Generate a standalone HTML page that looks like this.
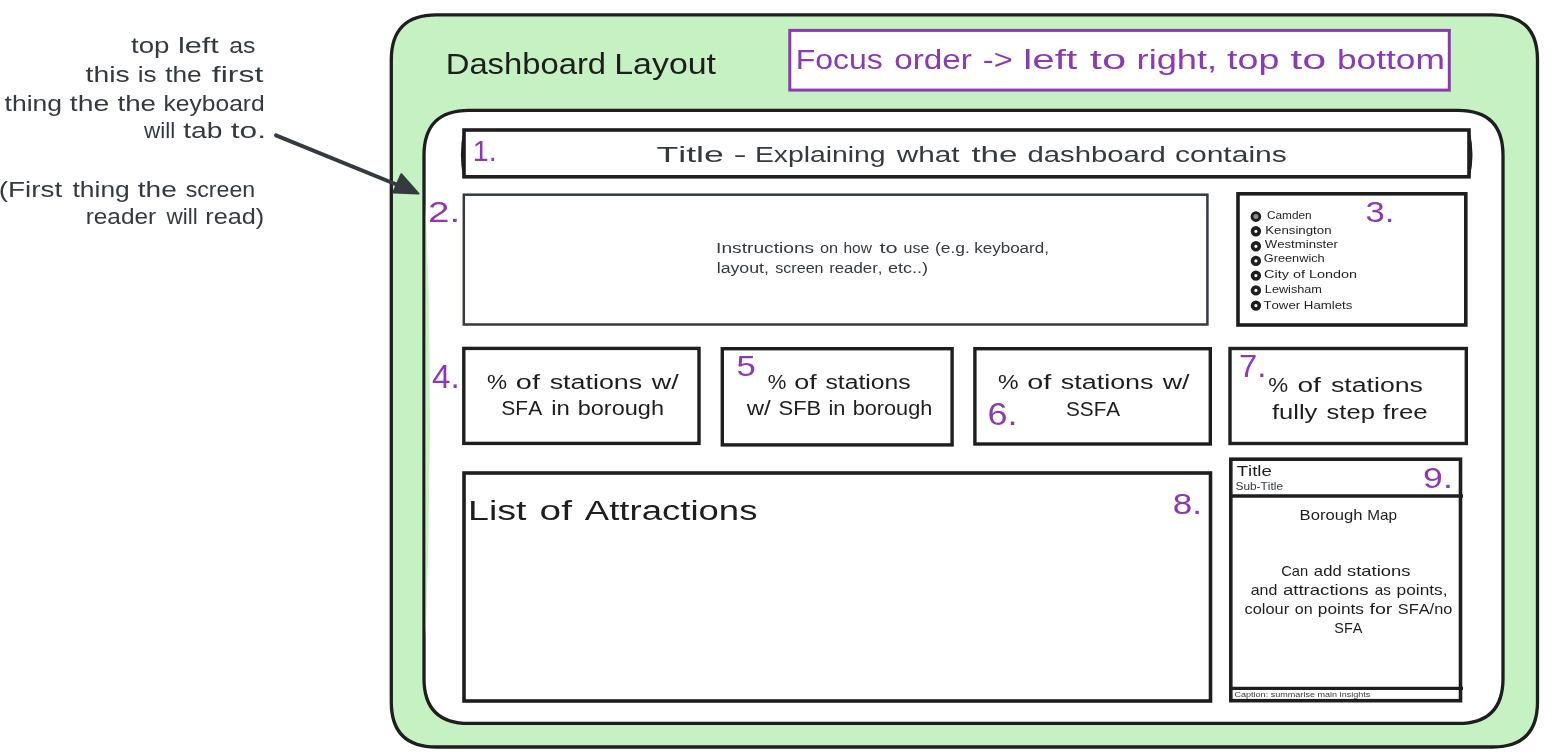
<!DOCTYPE html>
<html><head><meta charset="utf-8"><title>Dashboard Layout</title>
<style>
html,body{margin:0;padding:0;background:#fff;}
body{width:1556px;height:753px;overflow:hidden;}
svg{display:block;will-change:transform;}
text{font-family:"Liberation Sans", sans-serif;font-kerning:none;}
</style></head><body>
<svg width="1556" height="753" viewBox="0 0 1556 753">

<path d="M436.3 14.8 L1492.5 14.8 Q1537.5 14.8 1537.5 59.8 L1537.5 702 Q1537.5 747 1492.5 747 L436.3 747 Q391.3 747 391.3 702 L391.3 59.8 Q391.3 14.8 436.3 14.8 Z" fill="#c6f1c2" stroke="#1e1e1e" stroke-width="3.3"/>
<path d="M469 110.3 L1458 110.3 Q1503 110.3 1503 155.3 L1503 678.4 Q1503 723.4 1458 723.4 L469 723.4 Q424 723.4 424 678.4 L424 155.3 Q424 110.3 469 110.3 Z" fill="#fff" stroke="#1e1e1e" stroke-width="3.3"/>
<path d="M425.6 205 L429.2 310 L430 430 L428.2 550 L425.6 640 Z" fill="#c6f1c2"/>
<rect x="789.8" y="30.4" width="659.5" height="59.7" fill="#fff" stroke="#8c3ab2" stroke-width="3"/>
<rect x="464" y="130" width="1005" height="46.8" fill="#fff" stroke="#1e1e1e" stroke-width="3.6"/>
<rect x="463.8" y="194.7" width="743.6" height="129.8" fill="#fff" stroke="#343a40" stroke-width="2.5"/>
<rect x="1238" y="193.8" width="227.8" height="131.2" fill="#fff" stroke="#1e1e1e" stroke-width="3.6"/>
<rect x="463.8" y="348.4" width="235.2" height="95" fill="#fff" stroke="#1e1e1e" stroke-width="3.4"/>
<rect x="722.3" y="348.7" width="229.8" height="96.2" fill="#fff" stroke="#1e1e1e" stroke-width="3.4"/>
<rect x="974.9" y="348.7" width="235.4" height="95.3" fill="#fff" stroke="#1e1e1e" stroke-width="3.4"/>
<rect x="1230" y="348.5" width="236.3" height="95" fill="#fff" stroke="#1e1e1e" stroke-width="3.4"/>
<rect x="464" y="473" width="746.5" height="228" fill="#fff" stroke="#1e1e1e" stroke-width="3.6"/>
<rect x="1230.8" y="459.2" width="229.7" height="241.5" fill="#fff" stroke="#1e1e1e" stroke-width="3.6"/>
<path d="M464.2 132 Q459.8 155 464.2 177" fill="none" stroke="#1e1e1e" stroke-width="2.2"/>
<path d="M1468.8 132 Q1474 155 1468.8 177" fill="none" stroke="#1e1e1e" stroke-width="2.2"/>
<line x1="1230.8" y1="496" x2="1463" y2="496" stroke="#1e1e1e" stroke-width="3.3"/>
<line x1="1230.8" y1="688.4" x2="1463" y2="688.4" stroke="#1e1e1e" stroke-width="3.3"/>
<line x1="276" y1="135.3" x2="410" y2="190" stroke="#343a40" stroke-width="4" stroke-linecap="round"/>
<path d="M401.3 174.2 L393.3 192.5 L418.5 193.6 Z" fill="#343a40" stroke="#343a40" stroke-width="2" stroke-linejoin="round"/>

<circle cx="1255.9" cy="216.6" r="3.9" fill="#868e96" stroke="#1e1e1e" stroke-width="2.8"/>
<circle cx="1255.9" cy="231.3" r="3.4" fill="#fff" stroke="#1e1e1e" stroke-width="3.6"/>
<circle cx="1255.9" cy="246.3" r="3.4" fill="#fff" stroke="#1e1e1e" stroke-width="3.6"/>
<circle cx="1255.9" cy="260.9" r="3.4" fill="#fff" stroke="#1e1e1e" stroke-width="3.6"/>
<circle cx="1255.9" cy="275.6" r="3.4" fill="#fff" stroke="#1e1e1e" stroke-width="3.6"/>
<circle cx="1255.9" cy="290.4" r="3.4" fill="#fff" stroke="#1e1e1e" stroke-width="3.6"/>
<circle cx="1255.9" cy="305.6" r="3.4" fill="#fff" stroke="#1e1e1e" stroke-width="3.6"/>

<text x="130.98" y="52.90" font-size="21.5" fill="#343a40" textLength="38.48" lengthAdjust="spacingAndGlyphs">top</text>
<text x="177.93" y="52.90" font-size="21.5" fill="#343a40" textLength="40.89" lengthAdjust="spacingAndGlyphs">left</text>
<text x="229.24" y="52.90" font-size="21.5" fill="#343a40" textLength="26.25" lengthAdjust="spacingAndGlyphs">as</text>
<text x="85.57" y="81.70" font-size="21.5" fill="#343a40" textLength="44.15" lengthAdjust="spacingAndGlyphs">this</text>
<text x="137.75" y="81.70" font-size="21.5" fill="#343a40" textLength="18.90" lengthAdjust="spacingAndGlyphs">is</text>
<text x="165.20" y="81.70" font-size="21.5" fill="#343a40" textLength="36.57" lengthAdjust="spacingAndGlyphs">the</text>
<text x="211.85" y="81.70" font-size="21.5" fill="#343a40" textLength="51.49" lengthAdjust="spacingAndGlyphs">first</text>
<text x="4.60" y="110.50" font-size="21.5" fill="#343a40" textLength="57.41" lengthAdjust="spacingAndGlyphs">thing</text>
<text x="69.77" y="110.50" font-size="21.5" fill="#343a40" textLength="39.49" lengthAdjust="spacingAndGlyphs">the</text>
<text x="117.48" y="110.50" font-size="21.5" fill="#343a40" textLength="38.55" lengthAdjust="spacingAndGlyphs">the</text>
<text x="163.54" y="110.50" font-size="21.5" fill="#343a40" textLength="101.14" lengthAdjust="spacingAndGlyphs">keyboard</text>
<text x="144.03" y="138.40" font-size="21.5" fill="#343a40" textLength="31.17" lengthAdjust="spacingAndGlyphs">will</text>
<text x="183.17" y="138.40" font-size="21.5" fill="#343a40" textLength="39.32" lengthAdjust="spacingAndGlyphs">tab</text>
<text x="230.72" y="138.40" font-size="21.5" fill="#343a40" textLength="35.28" lengthAdjust="spacingAndGlyphs">to.</text>
<text x="-1.23" y="196.60" font-size="21.5" fill="#343a40" textLength="63.53" lengthAdjust="spacingAndGlyphs">(First</text>
<text x="72.50" y="196.60" font-size="21.5" fill="#343a40" textLength="57.30" lengthAdjust="spacingAndGlyphs">thing</text>
<text x="137.78" y="196.60" font-size="21.5" fill="#343a40" textLength="38.97" lengthAdjust="spacingAndGlyphs">the</text>
<text x="185.66" y="196.60" font-size="21.5" fill="#343a40" textLength="69.55" lengthAdjust="spacingAndGlyphs">screen</text>
<text x="85.68" y="223.60" font-size="21.5" fill="#343a40" textLength="70.42" lengthAdjust="spacingAndGlyphs">reader</text>
<text x="166.53" y="223.60" font-size="21.5" fill="#343a40" textLength="31.17" lengthAdjust="spacingAndGlyphs">will</text>
<text x="205.32" y="223.60" font-size="21.5" fill="#343a40" textLength="58.94" lengthAdjust="spacingAndGlyphs">read)</text>
<text x="445.71" y="73.50" font-size="29" fill="#1e1e1e" textLength="160.40" lengthAdjust="spacingAndGlyphs">Dashboard</text>
<text x="614.22" y="73.50" font-size="29" fill="#1e1e1e" textLength="101.83" lengthAdjust="spacingAndGlyphs">Layout</text>
<text x="795.67" y="68.90" font-size="27" fill="#8c3ab2" textLength="87.18" lengthAdjust="spacingAndGlyphs">Focus</text>
<text x="894.20" y="68.90" font-size="27" fill="#8c3ab2" textLength="77.65" lengthAdjust="spacingAndGlyphs">order</text>
<text x="982.85" y="68.90" font-size="27" fill="#8c3ab2" textLength="29.95" lengthAdjust="spacingAndGlyphs">-&gt;</text>
<text x="1023.38" y="68.90" font-size="27" fill="#8c3ab2" textLength="53.81" lengthAdjust="spacingAndGlyphs">left</text>
<text x="1089.84" y="68.90" font-size="27" fill="#8c3ab2" textLength="36.39" lengthAdjust="spacingAndGlyphs">to</text>
<text x="1136.59" y="68.90" font-size="27" fill="#8c3ab2" textLength="80.56" lengthAdjust="spacingAndGlyphs">right,</text>
<text x="1227.03" y="68.90" font-size="27" fill="#8c3ab2" textLength="52.35" lengthAdjust="spacingAndGlyphs">top</text>
<text x="1290.15" y="68.90" font-size="27" fill="#8c3ab2" textLength="36.07" lengthAdjust="spacingAndGlyphs">to</text>
<text x="1336.92" y="68.90" font-size="27" fill="#8c3ab2" textLength="108.01" lengthAdjust="spacingAndGlyphs">bottom</text>
<text x="472.83" y="161.40" font-size="29.6" fill="#8c3ab2" textLength="23.77" lengthAdjust="spacingAndGlyphs">1.</text>
<text x="656.40" y="162.20" font-size="22" fill="#343a40" textLength="67.49" lengthAdjust="spacingAndGlyphs">Title</text>
<text x="733.45" y="162.20" font-size="22" fill="#343a40" textLength="13.09" lengthAdjust="spacingAndGlyphs">-</text>
<text x="754.98" y="162.20" font-size="22" fill="#343a40" textLength="130.65" lengthAdjust="spacingAndGlyphs">Explaining</text>
<text x="896.74" y="162.20" font-size="22" fill="#343a40" textLength="62.87" lengthAdjust="spacingAndGlyphs">what</text>
<text x="971.40" y="162.20" font-size="22" fill="#343a40" textLength="46.18" lengthAdjust="spacingAndGlyphs">the</text>
<text x="1027.47" y="162.20" font-size="22" fill="#343a40" textLength="138.42" lengthAdjust="spacingAndGlyphs">dashboard</text>
<text x="1174.92" y="162.20" font-size="22" fill="#343a40" textLength="111.96" lengthAdjust="spacingAndGlyphs">contains</text>
<text x="428.06" y="222.30" font-size="29.8" fill="#8c3ab2" textLength="32.16" lengthAdjust="spacingAndGlyphs">2.</text>
<text x="716.13" y="253.20" font-size="14" fill="#343a40" textLength="98.06" lengthAdjust="spacingAndGlyphs">Instructions</text>
<text x="820.02" y="253.20" font-size="14" fill="#343a40" textLength="18.14" lengthAdjust="spacingAndGlyphs">on</text>
<text x="843.43" y="253.20" font-size="14" fill="#343a40" textLength="28.44" lengthAdjust="spacingAndGlyphs">how</text>
<text x="879.47" y="253.20" font-size="14" fill="#343a40" textLength="18.14" lengthAdjust="spacingAndGlyphs">to</text>
<text x="903.56" y="253.20" font-size="14" fill="#343a40" textLength="25.75" lengthAdjust="spacingAndGlyphs">use</text>
<text x="934.92" y="253.20" font-size="14" fill="#343a40" textLength="34.87" lengthAdjust="spacingAndGlyphs">(e.g.</text>
<text x="974.25" y="253.20" font-size="14" fill="#343a40" textLength="74.67" lengthAdjust="spacingAndGlyphs">keyboard,</text>
<text x="716.70" y="273.20" font-size="14" fill="#343a40" textLength="52.29" lengthAdjust="spacingAndGlyphs">layout,</text>
<text x="775.25" y="273.20" font-size="14" fill="#343a40" textLength="48.29" lengthAdjust="spacingAndGlyphs">screen</text>
<text x="829.18" y="273.20" font-size="14" fill="#343a40" textLength="53.22" lengthAdjust="spacingAndGlyphs">reader,</text>
<text x="888.03" y="273.20" font-size="14" fill="#343a40" textLength="40.08" lengthAdjust="spacingAndGlyphs">etc..)</text>
<text x="1365.48" y="222.30" font-size="29.8" fill="#8c3ab2" textLength="28.88" lengthAdjust="spacingAndGlyphs">3.</text>
<text x="1267.00" y="219.30" font-size="11.5" fill="#1e1e1e" textLength="44.67" lengthAdjust="spacingAndGlyphs">Camden</text>
<text x="1265.21" y="234.20" font-size="11.5" fill="#1e1e1e" textLength="66.35" lengthAdjust="spacingAndGlyphs">Kensington</text>
<text x="1264.74" y="248.40" font-size="11.5" fill="#1e1e1e" textLength="73.18" lengthAdjust="spacingAndGlyphs">Westminster</text>
<text x="1263.76" y="262.20" font-size="11.5" fill="#1e1e1e" textLength="60.97" lengthAdjust="spacingAndGlyphs">Greenwich</text>
<text x="1264.07" y="278.20" font-size="11.5" fill="#1e1e1e" textLength="92.97" lengthAdjust="spacingAndGlyphs">City of London</text>
<text x="1264.86" y="293.00" font-size="11.5" fill="#1e1e1e" textLength="57.08" lengthAdjust="spacingAndGlyphs">Lewisham</text>
<text x="1263.40" y="308.50" font-size="11.5" fill="#1e1e1e" textLength="88.98" lengthAdjust="spacingAndGlyphs">Tower Hamlets</text>
<text x="486.99" y="389.20" font-size="19.5" fill="#1e1e1e" textLength="20.11" lengthAdjust="spacingAndGlyphs">%</text>
<text x="515.88" y="389.20" font-size="19.5" fill="#1e1e1e" textLength="24.17" lengthAdjust="spacingAndGlyphs">of</text>
<text x="549.65" y="389.20" font-size="19.5" fill="#1e1e1e" textLength="92.62" lengthAdjust="spacingAndGlyphs">stations</text>
<text x="651.74" y="389.20" font-size="19.5" fill="#1e1e1e" textLength="26.86" lengthAdjust="spacingAndGlyphs">w/</text>
<text x="501.35" y="415.30" font-size="19.5" fill="#1e1e1e" textLength="40.79" lengthAdjust="spacingAndGlyphs">SFA</text>
<text x="551.30" y="415.30" font-size="19.5" fill="#1e1e1e" textLength="18.66" lengthAdjust="spacingAndGlyphs">in</text>
<text x="577.68" y="415.30" font-size="19.5" fill="#1e1e1e" textLength="86.34" lengthAdjust="spacingAndGlyphs">borough</text>
<text x="767.75" y="389.40" font-size="19.5" fill="#1e1e1e" textLength="18.59" lengthAdjust="spacingAndGlyphs">%</text>
<text x="794.37" y="389.40" font-size="19.5" fill="#1e1e1e" textLength="22.49" lengthAdjust="spacingAndGlyphs">of</text>
<text x="825.41" y="389.40" font-size="19.5" fill="#1e1e1e" textLength="85.18" lengthAdjust="spacingAndGlyphs">stations</text>
<text x="746.74" y="415.00" font-size="19.5" fill="#1e1e1e" textLength="24.06" lengthAdjust="spacingAndGlyphs">w/</text>
<text x="778.61" y="415.00" font-size="19.5" fill="#1e1e1e" textLength="42.55" lengthAdjust="spacingAndGlyphs">SFB</text>
<text x="828.54" y="415.00" font-size="19.5" fill="#1e1e1e" textLength="16.98" lengthAdjust="spacingAndGlyphs">in</text>
<text x="852.70" y="415.00" font-size="19.5" fill="#1e1e1e" textLength="79.61" lengthAdjust="spacingAndGlyphs">borough</text>
<text x="997.98" y="389.30" font-size="19.5" fill="#1e1e1e" textLength="20.55" lengthAdjust="spacingAndGlyphs">%</text>
<text x="1027.29" y="389.30" font-size="19.5" fill="#1e1e1e" textLength="24.07" lengthAdjust="spacingAndGlyphs">of</text>
<text x="1060.75" y="389.30" font-size="19.5" fill="#1e1e1e" textLength="92.82" lengthAdjust="spacingAndGlyphs">stations</text>
<text x="1162.74" y="389.30" font-size="19.5" fill="#1e1e1e" textLength="26.76" lengthAdjust="spacingAndGlyphs">w/</text>
<text x="1065.96" y="416.00" font-size="19.5" fill="#1e1e1e" textLength="54.28" lengthAdjust="spacingAndGlyphs">SSFA</text>
<text x="1268.30" y="392.40" font-size="19.5" fill="#1e1e1e" textLength="19.90" lengthAdjust="spacingAndGlyphs">%</text>
<text x="1297.42" y="392.40" font-size="19.5" fill="#1e1e1e" textLength="23.44" lengthAdjust="spacingAndGlyphs">of</text>
<text x="1330.96" y="392.40" font-size="19.5" fill="#1e1e1e" textLength="92.01" lengthAdjust="spacingAndGlyphs">stations</text>
<text x="1271.94" y="419.40" font-size="19.5" fill="#1e1e1e" textLength="45.41" lengthAdjust="spacingAndGlyphs">fully</text>
<text x="1326.59" y="419.40" font-size="19.5" fill="#1e1e1e" textLength="48.28" lengthAdjust="spacingAndGlyphs">step</text>
<text x="1383.13" y="419.40" font-size="19.5" fill="#1e1e1e" textLength="44.51" lengthAdjust="spacingAndGlyphs">free</text>
<text x="432.04" y="387.90" font-size="33" fill="#8c3ab2" textLength="27.69" lengthAdjust="spacingAndGlyphs">4.</text>
<text x="736.52" y="376.40" font-size="29.8" fill="#8c3ab2" textLength="19.24" lengthAdjust="spacingAndGlyphs">5</text>
<text x="987.47" y="425.30" font-size="31.5" fill="#8c3ab2" textLength="30.01" lengthAdjust="spacingAndGlyphs">6.</text>
<text x="1239.12" y="377.00" font-size="31.2" fill="#8c3ab2" textLength="27.38" lengthAdjust="spacingAndGlyphs">7.</text>
<text x="468.12" y="519.90" font-size="27" fill="#1e1e1e" textLength="58.46" lengthAdjust="spacingAndGlyphs">List</text>
<text x="539.57" y="519.90" font-size="27" fill="#1e1e1e" textLength="32.37" lengthAdjust="spacingAndGlyphs">of</text>
<text x="584.83" y="519.90" font-size="27" fill="#1e1e1e" textLength="172.59" lengthAdjust="spacingAndGlyphs">Attractions</text>
<text x="1172.88" y="513.50" font-size="28.8" fill="#8c3ab2" textLength="29.22" lengthAdjust="spacingAndGlyphs">8.</text>
<text x="1236.68" y="476.30" font-size="15" fill="#1e1e1e" textLength="35.14" lengthAdjust="spacingAndGlyphs">Title</text>
<text x="1235.46" y="489.80" font-size="10" fill="#343a40" textLength="47.57" lengthAdjust="spacingAndGlyphs">Sub-Title</text>
<text x="1423.13" y="487.80" font-size="29.5" fill="#8c3ab2" textLength="29.73" lengthAdjust="spacingAndGlyphs">9.</text>
<text x="1299.64" y="519.70" font-size="15" fill="#1e1e1e" textLength="62.84" lengthAdjust="spacingAndGlyphs">Borough</text>
<text x="1367.24" y="519.70" font-size="15" fill="#1e1e1e" textLength="29.80" lengthAdjust="spacingAndGlyphs">Map</text>
<text x="1281.16" y="576.40" font-size="15" fill="#1e1e1e" textLength="26.90" lengthAdjust="spacingAndGlyphs">Can</text>
<text x="1313.89" y="576.40" font-size="15" fill="#1e1e1e" textLength="27.78" lengthAdjust="spacingAndGlyphs">add</text>
<text x="1346.99" y="576.40" font-size="15" fill="#1e1e1e" textLength="63.48" lengthAdjust="spacingAndGlyphs">stations</text>
<text x="1250.72" y="595.40" font-size="15" fill="#1e1e1e" textLength="26.61" lengthAdjust="spacingAndGlyphs">and</text>
<text x="1282.91" y="595.40" font-size="15" fill="#1e1e1e" textLength="85.76" lengthAdjust="spacingAndGlyphs">attractions</text>
<text x="1374.75" y="595.40" font-size="15" fill="#1e1e1e" textLength="16.10" lengthAdjust="spacingAndGlyphs">as</text>
<text x="1396.58" y="595.40" font-size="15" fill="#1e1e1e" textLength="50.97" lengthAdjust="spacingAndGlyphs">points,</text>
<text x="1244.50" y="614.00" font-size="15" fill="#1e1e1e" textLength="44.67" lengthAdjust="spacingAndGlyphs">colour</text>
<text x="1294.72" y="614.00" font-size="15" fill="#1e1e1e" textLength="17.92" lengthAdjust="spacingAndGlyphs">on</text>
<text x="1317.89" y="614.00" font-size="15" fill="#1e1e1e" textLength="46.04" lengthAdjust="spacingAndGlyphs">points</text>
<text x="1369.52" y="614.00" font-size="15" fill="#1e1e1e" textLength="22.90" lengthAdjust="spacingAndGlyphs">for</text>
<text x="1397.86" y="614.00" font-size="15" fill="#1e1e1e" textLength="54.43" lengthAdjust="spacingAndGlyphs">SFA/no</text>
<text x="1334.34" y="633.00" font-size="15" fill="#1e1e1e" textLength="28.08" lengthAdjust="spacingAndGlyphs">SFA</text>
<text x="1234.44" y="696.90" font-size="7.5" fill="#343a40" textLength="135.89" lengthAdjust="spacingAndGlyphs">Caption: summarise main insights</text>
</svg>
</body></html>
